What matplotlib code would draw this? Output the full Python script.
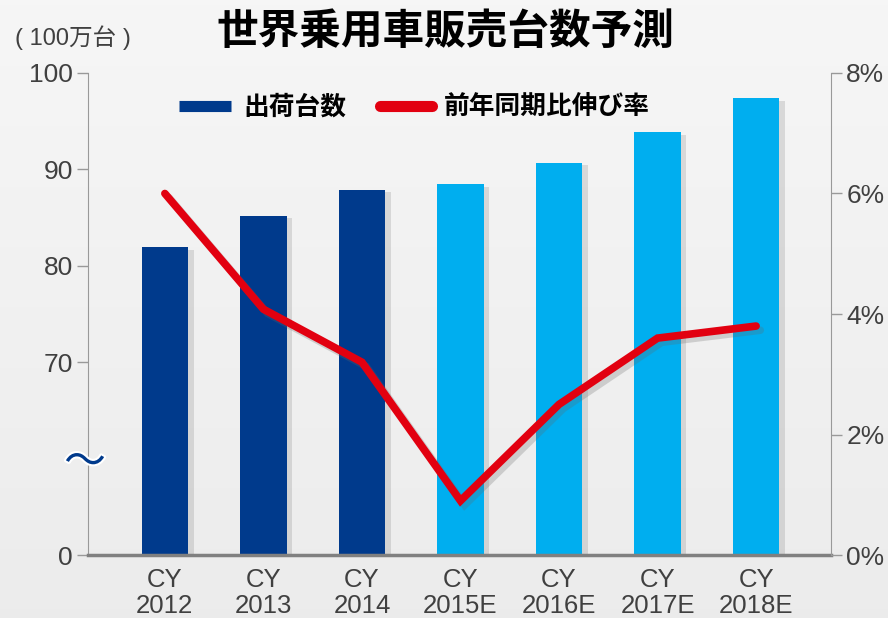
import numpy as np
import matplotlib.pyplot as plt
import matplotlib.patheffects as pe
from matplotlib.lines import Line2D
from matplotlib.ticker import FuncFormatter

plt.rcParams['font.family'] = ['Liberation Sans', 'Noto Sans CJK JP', 'DejaVu Sans']

# データ
years = ['CY\n2012', 'CY\n2013', 'CY\n2014', 'CY\n2015E', 'CY\n2016E', 'CY\n2017E', 'CY\n2018E']
units = [81.9, 85.2, 87.9, 88.5, 90.7, 93.9, 97.4]      # 100万台
growth = [6.0, 4.08, 3.2, 0.9, 2.5, 3.6, 3.8]           # %
is_estimate = [False, False, False, True, True, True, True]

# 縦軸は 0 と 70 の間を省略 (0 を 50 の位置に置く)
BASE = 50
left_ticks = [50, 70, 80, 90, 100]
left_labels = ['0', '70', '80', '90', '100']

dark_blue = '#003A8C'
light_blue = '#00AEEF'
red = '#E20010'
txt = '#404040'
spine_c = '#999999'

fig = plt.figure(figsize=(8.88, 6.18), dpi=100)

# 背景グラデーション
bg = fig.add_axes([0, 0, 1, 1], zorder=-10)
grad = np.linspace(0.965, 0.925, 256).reshape(-1, 1)
bg.imshow(np.dstack([grad, grad, grad]), aspect='auto', extent=[0, 1, 0, 1])
bg.axis('off')

ax = fig.add_axes([0.0991, 0.1019, 0.8367, 0.78])
ax.patch.set_alpha(0)
x = np.arange(len(years))
cols = [light_blue if e else dark_blue for e in is_estimate]
heights = [u - BASE for u in units]
bars = ax.bar(x, heights, width=0.47, bottom=BASE, color=cols, zorder=3)
for b in bars:
    b.set_path_effects([pe.SimplePatchShadow(offset=(4, -2), shadow_rgbFace='#888888', alpha=0.25),
                        pe.Normal()])

ax.set_xlim(-0.78, 6.76)
ax.set_ylim(50, 100)
ax.set_yticks(left_ticks)
ax.set_yticklabels(left_labels)
ax.set_xticks(x)
ax.set_xticklabels(years, linespacing=1.15)
ax.tick_params(axis='x', length=0, labelsize=18.5, colors=txt, pad=9)
ax.tick_params(axis='y', length=8, width=1, color=spine_c, labelsize=19, labelcolor=txt, pad=3)
for s in ['top', 'right']:
    ax.spines[s].set_visible(False)
ax.spines['left'].set_color(spine_c)
ax.spines['bottom'].set_color('#808080')
ax.spines['bottom'].set_linewidth(2.5)
ax.spines['bottom'].set_zorder(5)

# 右軸 (伸び率)
ax2 = ax.twinx()
ax2.plot(x, growth, color=red, lw=5.5, solid_capstyle='round', solid_joinstyle='miter', zorder=5,
         path_effects=[pe.SimpleLineShadow(offset=(3, -3), shadow_color='#666666', alpha=0.25), pe.Normal()])
ax2.set_ylim(0, 8)
ax2.set_yticks([0, 2, 4, 6, 8])
ax2.yaxis.set_major_formatter(FuncFormatter(lambda v, p: f'{v:.0f}%'))
ax2.tick_params(axis='y', length=8, width=1, color=spine_c, labelsize=19, labelcolor=txt, pad=3)
for s in ['top', 'left', 'bottom']:
    ax2.spines[s].set_visible(False)
ax2.spines['right'].set_color(spine_c)

# 省略記号
fig.text(85 / 888, 1 - 463 / 618, '～', ha='center', va='center', fontsize=30, color=dark_blue,
         family=['Noto Sans CJK JP'],
         path_effects=[pe.withStroke(linewidth=3, foreground='white')])

# タイトルと単位
fig.text(445 / 888, 1 - 32 / 618, '世界乗用車販売台数予測', ha='center', va='center',
         fontsize=30, fontweight='bold', color='black', family=['Noto Sans CJK JP'])
fig.text(73 / 888, 1 - 38 / 618, '( 100万台 )', ha='center', va='center', fontsize=17, color=txt)

# 凡例
handles = [Line2D([0], [0], color=dark_blue, lw=8, solid_capstyle='butt'),
           Line2D([0], [0], color=red, lw=8, solid_capstyle='round')]
leg = ax.legend(handles, ['出荷台数', '前年同期比伸び率'], loc='upper center', ncol=2,
                bbox_to_anchor=(0.44, 1.005), frameon=False, handlelength=2.0,
                columnspacing=1.3, handletextpad=0.5,
                prop={'family': ['Noto Sans CJK JP'], 'weight': 'bold', 'size': 18.5})

fig.savefig('out.png', dpi=100)
